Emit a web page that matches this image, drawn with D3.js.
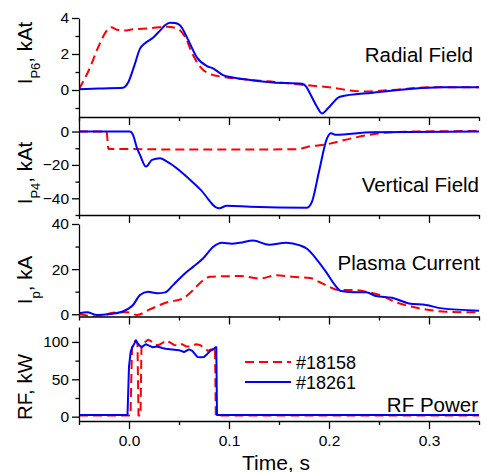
<!DOCTYPE html>
<html><head><meta charset="utf-8">
<script src="https://cdn.jsdelivr.net/npm/d3@7"></script>
<style>
body{margin:0;background:#fff}
svg{display:block}
text{font-family:Arial,"Liberation Sans",sans-serif;fill:#000}
</style>
</head><body>
<svg id="c" width="487" height="472"></svg>
<script>
// ---------------- data ----------------
const shots = ["#18158", "#18261"];
const panelNames = ["Radial Field", "Vertical Field", "Plasma Current", "RF Power"];
const xMajorTicks = [0.0, 0.1, 0.2, 0.3];
const xMinorTicks = [-0.05, 0.05, 0.15, 0.25, 0.35];

// Radial field I_P6 (kAt)
const radial18158 = [[-0.05,0.05],[-0.041,1.0],[-0.029,2.6],[-0.023,3.24],[-0.018,3.48],[-0.012,3.35],[-0.006,3.3],[0.004,3.37],[0.021,3.43],[0.038,3.52],[0.048,3.43],[0.056,2.96],[0.064,1.94],[0.071,1.3],[0.081,0.89],[0.098,0.7],[0.121,0.56],[0.14,0.48],[0.171,0.3],[0.2,0.15],[0.234,-0.08],[0.268,0.02],[0.3,0.15],[0.35,0.15]];
const radial18261 = [[-0.05,0.04],[-0.03,0.09],[-0.006,0.13],[-0.001,0.4],[0.005,1.3],[0.011,2.3],[0.016,2.6],[0.024,2.9],[0.031,3.3],[0.036,3.6],[0.041,3.74],[0.046,3.72],[0.051,3.6],[0.059,2.8],[0.068,1.8],[0.078,1.33],[0.084,1.2],[0.094,0.83],[0.104,0.7],[0.121,0.56],[0.144,0.42],[0.173,0.35],[0.177,0.2],[0.181,-0.19],[0.188,-0.93],[0.193,-1.3],[0.199,-1.02],[0.211,-0.37],[0.244,-0.15],[0.278,0.04],[0.311,0.15],[0.35,0.15]];

// Vertical field I_P4 (kAt)
const vertical18158 = [[-0.05,0],[-0.0225,0],[-0.0205,-10.5],[0.0,-10.5],[0.05,-10.8],[0.1,-10.8],[0.168,-10.6],[0.18,-9],[0.197,-7.7],[0.223,-4],[0.25,-1.1],[0.277,-0.1],[0.35,0.3]];
const vertical18261 = [[-0.05,0],[0.001,0],[0.004,-2],[0.008,-10],[0.011,-14],[0.017,-21],[0.023,-17],[0.031,-16],[0.038,-18],[0.071,-34.5],[0.09,-46],[0.098,-44.4],[0.121,-45],[0.178,-45.6],[0.183,-42],[0.19,-24],[0.198,-4.1],[0.202,-1.1],[0.207,-2],[0.243,-0.4],[0.35,0]];

// Plasma current I_p (kA)
const plasma18158 = [[-0.05,0],[-0.03,-1],[-0.016,0.7],[-0.002,0.9],[0.008,-0.3],[0.021,2.2],[0.038,5.3],[0.054,7],[0.064,10.7],[0.074,15],[0.081,16.6],[0.103,16.9],[0.111,17],[0.131,15.8],[0.147,17.3],[0.163,16.6],[0.181,16.1],[0.19,14.4],[0.2,12.2],[0.21,10.7],[0.227,10.7],[0.237,10],[0.251,8.5],[0.267,5.3],[0.283,3.3],[0.3,1.9],[0.317,1.1],[0.343,0.9],[0.35,0.9]];
const plasma18261 = [[-0.05,0.44],[-0.042,0.9],[-0.032,-0.3],[-0.019,0.1],[-0.007,1.1],[0.004,4.1],[0.011,8.5],[0.019,10],[0.028,9.3],[0.036,9.7],[0.044,12.9],[0.054,17.3],[0.064,21],[0.074,24.7],[0.084,29.8],[0.093,31.7],[0.103,31.3],[0.111,31.7],[0.124,32.7],[0.14,30.8],[0.157,31.7],[0.171,30.5],[0.178,29],[0.187,24.7],[0.197,18.8],[0.206,12.9],[0.212,10.3],[0.227,9.7],[0.237,9.7],[0.247,8.1],[0.263,7.3],[0.28,4.8],[0.297,4.1],[0.313,2.6],[0.35,1.6]];

// RF power (kW)
const rf18158 = [[-0.05,1.5],[0.0015,1.5],[0.003,92],[0.005,100],[0.007,102],[0.0085,97],[0.0095,1.5],[0.0115,1.5],[0.0125,96],[0.016,100],[0.019,103],[0.022,101],[0.026,96],[0.03,96],[0.034,99],[0.037,102],[0.04,100],[0.045,96],[0.05,95],[0.053,97],[0.057,94],[0.062,94],[0.067,97],[0.071,96],[0.075,92],[0.079,88],[0.082,90],[0.085,90],[0.086,93],[0.0868,1.5],[0.35,1.5]];
const rf18261 = [[-0.05,2.3],[-0.0015,2.3],[0.0,67],[0.0017,87],[0.0033,93],[0.005,97],[0.0067,102],[0.0083,99],[0.01,96],[0.0127,93],[0.0167,97],[0.02,95],[0.0233,93],[0.0283,94],[0.0333,92],[0.0367,91],[0.0433,90],[0.05,89],[0.055,86.5],[0.06,90],[0.0633,88],[0.0683,80],[0.0717,79.5],[0.075,80],[0.0783,84],[0.0817,88.5],[0.085,91],[0.0867,93],[0.0873,93],[0.088,2.3],[0.35,2.3]];

// ---------------- layout ----------------
const svg = d3.select("#c");
const X0 = 79, X1 = 479;
const x = d3.scaleLinear().domain([-0.05, 0.35]).range([X0, X1]);

const panels = [
  {top:18, bottom:117, domain:[-1.5,4], major:[0,2,4], minor:[-1,1,3],
   series:[radial18158, radial18261], curve:d3.curveMonotoneX,
   label:["I","P6",", kAt"], labelY:53, name:panelNames[0], nameX:473, nameY:62},
  {top:117, bottom:215, domain:[-50,8.7], major:[0,-20,-40], minor:[-10,-30,-50],
   series:[vertical18158, vertical18261], curve:d3.curveMonotoneX,
   label:["I","P4",", kAt"], labelY:173, name:panelNames[1], nameX:479, nameY:191.5},
  {top:224, bottom:316.5, domain:[-1,40], major:[0,20,40], minor:[10,30],
   series:[plasma18158, plasma18261], curve:d3.curveMonotoneX,
   label:["I","p",", kA"], labelY:280, name:panelNames[2], nameX:480, nameY:269.5},
  {top:327, bottom:421, domain:[-5.8,120], major:[0,50,100], minor:[25,75],
   series:[rf18158, rf18261], curve:d3.curveLinear,
   label:["RF, kW"], labelY:387, name:panelNames[3], nameX:478, nameY:411.5}
];

const colors = ["#ff0000", "#0000ff"];
const dashes = ["9,5", null];

panels.forEach((p, i) => {
  const y = d3.scaleLinear().domain(p.domain).range([p.bottom, p.top]);
  const g = svg.append("g");
  const isLast = i === panels.length - 1;

  const clipId = "clip" + i;
  svg.append("clipPath").attr("id", clipId).append("rect")
    .attr("x", X0).attr("y", p.top - 6).attr("width", X1 - X0).attr("height", p.bottom - p.top + 6);

  // series
  const line = d3.line().x(d => x(d[0])).y(d => y(d[1])).curve(p.curve);
  p.series.forEach((s, k) => {
    g.append("path").datum(s)
      .attr("clip-path", `url(#${clipId})`)
      .attr("d", line)
      .attr("fill", "none")
      .attr("stroke", colors[k])
      .attr("stroke-width", 2)
      .attr("stroke-linejoin", "round")
      .attr("stroke-dasharray", dashes[k]);
  });

  // x axis
  const xa = g.append("g").attr("transform", `translate(0,${p.bottom})`);
  xa.call(d3.axisBottom(x).tickValues(xMajorTicks).tickSize(8).tickSizeOuter(0)
    .tickPadding(6).tickFormat(isLast ? d3.format(".1f") : () => ""));
  const xm = g.append("g").attr("transform", `translate(0,${p.bottom})`);
  xm.call(d3.axisBottom(x).tickValues(xMinorTicks).tickSize(4).tickSizeOuter(0).tickFormat(() => ""));
  xm.select(".domain").remove();

  // y axis
  const ya = g.append("g").attr("transform", `translate(${X0},0)`);
  ya.call(d3.axisLeft(y).tickValues(p.major).tickSize(7).tickSizeOuter(0).tickPadding(3)
    .tickFormat(d3.format("d")));
  const ym = g.append("g").attr("transform", `translate(${X0},0)`);
  ym.call(d3.axisLeft(y).tickValues(p.minor).tickSize(3.5).tickSizeOuter(0).tickFormat(() => ""));
  ym.select(".domain").remove();

  [xa, xm, ya, ym].forEach(a => {
    a.selectAll("path,line").attr("stroke", "#000").attr("stroke-width", 1.3);
    a.selectAll("text").attr("font-size", 15.5).attr("font-family", "Arial, 'Liberation Sans', sans-serif").attr("fill", "#000");
  });

  // y label
  const lbl = svg.append("text")
    .attr("transform", `translate(32,${p.labelY}) rotate(-90)`)
    .attr("text-anchor", "middle").attr("font-size", 20.5);
  if (p.label.length === 3) {
    lbl.append("tspan").text(p.label[0]);
    lbl.append("tspan").attr("font-size", 13).attr("dy", 8).text(p.label[1]);
    lbl.append("tspan").attr("dy", -8).text(p.label[2]);
  } else {
    lbl.text(p.label[0]);
  }

  // panel name
  svg.append("text").attr("x", p.nameX).attr("y", p.nameY)
    .attr("text-anchor", "end").attr("font-size", 20.5).text(p.name);
});

// x title
svg.append("text").attr("x", 276).attr("y", 469.5).attr("text-anchor", "middle")
  .attr("font-size", 21).text("Time, s");

// legend
const legendY = [362, 382];
shots.forEach((s, k) => {
  svg.append("line").attr("x1", 245).attr("x2", 291).attr("y1", legendY[k]).attr("y2", legendY[k])
    .attr("stroke", colors[k]).attr("stroke-width", 2).attr("stroke-dasharray", dashes[k]);
  svg.append("text").attr("x", 296).attr("y", legendY[k] + 6.5).attr("font-size", 18).text(s);
});
</script>
</body></html>
